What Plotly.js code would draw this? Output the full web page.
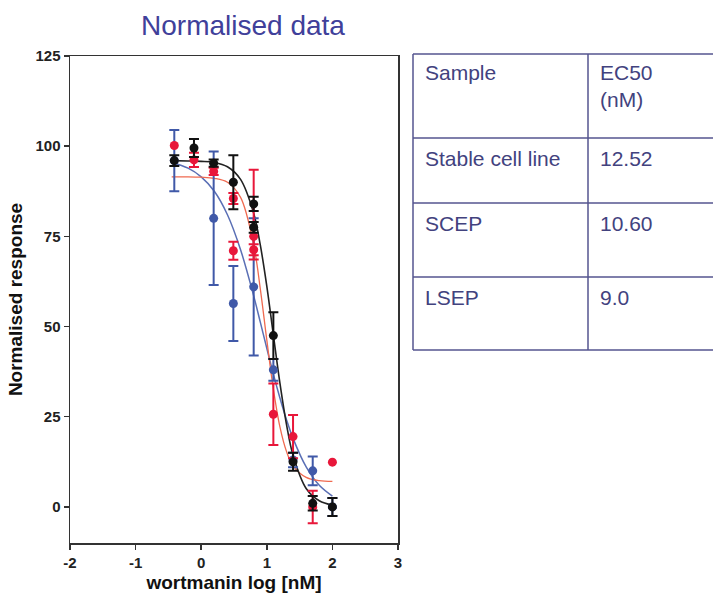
<!DOCTYPE html>
<html>
<head>
<meta charset="utf-8">
<script src="https://cdn.plot.ly/plotly-3.0.1.min.js"></script>
<style>html,body{margin:0;padding:0;background:#fff;}#chart{width:713px;height:600px;}</style>
</head>
<body>
<div id="chart"></div>
<script>
// ---- Data ----
// Measured points (x = log10 wortmannin nM)
const blackX = [-0.41, -0.11, 0.19, 0.49, 0.8, 0.8, 1.1, 1.4, 1.7, 2.0];
const blackY = [96, 99.5, 95.3, 90, 84, 77.5, 47.5, 12.5, 1, 0];
const blackErr = [1.5, 2.5, 1, 7.5, 2, 1.5, 6.5, 2.5, 2, 2.5];

const redX = [-0.41, -0.11, 0.19, 0.49, 0.49, 0.8, 0.8, 1.1, 1.4, 1.7, 2.0];
const redY = [100.2, 96.2, 93, 85.5, 71, 75, 71.3, 25.7, 19.5, 0, 12.4];
const redErrPlus = [NaN, 2, 1, 1.5, 2.5, 18.5, 1.5, 8.5, 6, 4.5, NaN];
const redErrMinus = [NaN, 2, 1, 1.5, 2.5, 6.4, 1.5, 8.5, 6, 4.5, NaN];

const blueX = [-0.41, 0.19, 0.49, 0.8, 1.1, 1.4, 1.7, 2.0];
const blueY = [96, 80, 56.4, 61, 38, 13, 10, 0];
const blueErr = [8.5, 18.5, 10.4, 19, 3, 2, 4, 2.5];

// Fitted curves, values
const curveX = [-0.45, -0.2, 0, 0.2, 0.4, 0.6, 0.8, 0.9, 1.0, 1.1, 1.2, 1.3, 1.4, 1.6, 1.8, 2.0];
const blackFit = [96.0, 95.9, 95.8, 95.5, 94.3, 90.8, 81.4, 72.7, 61.2, 47.7, 34.3, 22.9, 14.3, 5.1, 1.7, 0.5];
const redFit   = [91.5, 91.5, 91.4, 91.1, 90.0, 85.8, 72.6, 60.6, 46.3, 32.7, 22.2, 15.4, 11.4, 8.2, 7.3, 7.1];
const blueFit  = [95.5, 93.9, 91.5, 87.5, 81.0, 71.3, 58.5, 51.3, 44.0, 36.8, 30.2, 24.2, 19.0, 11.1, 6.0, 3.0];

// Axis ticks
const xTicks = [-2, -1, 0, 1, 2, 3];
const yTicks = [0, 25, 50, 75, 100, 125];

// Table contents
const tableHeader = ['Sample', 'EC50<br>(nM)'];
const samples = ['Stable cell line', 'SCEP', 'LSEP'];
const ec50 = ['12.52', '10.60', '9.0'];

// ---- Layout helpers (pixel -> paper) ----
const W = 713, H = 600;
const PL = 70, PR = 398, PT = 56, PB = 543;
const xp = px => (px - PL) / (PR - PL);
const yp = py => (PB - py) / (PB - PT);

const C_BLACK = '#111111', C_RED = '#e8173a', C_BLUE = '#4059a8';
const TXT = '#42427e', TLINE = '#55558f';

function pts(x, y, color, plus, minus) {
  const e = {type: 'data', array: plus, visible: true, color: color, thickness: 2, width: 5};
  if (minus) { e.symmetric = false; e.arrayminus = minus; }
  return {x: x, y: y, type: 'scatter', mode: 'markers',
    marker: {color: color, size: 9}, error_y: e, hoverinfo: 'skip'};
}
function fit(y, color, w) {
  return {x: curveX, y: y, type: 'scatter', mode: 'lines',
    line: {color: color, width: w, shape: 'spline', smoothing: 1}, hoverinfo: 'skip'};
}

const traces = [
  fit(blueFit, '#5a6fb5', 1.5),
  fit(redFit, '#f06a50', 1.3),
  fit(blackFit, '#222222', 1.6),
  pts(blueX, blueY, C_BLUE, blueErr),
  pts(redX, redY, C_RED, redErrPlus, redErrMinus),
  pts(blackX, blackY, C_BLACK, blackErr)
];

// Table geometry
const tLeft = 413, tRight = 720, tCol = 588;
const rowLines = [54, 138, 203, 277, 350];
const shapes = [];
rowLines.forEach(py => shapes.push({type: 'line', xref: 'paper', yref: 'paper',
  x0: xp(tLeft), x1: xp(tRight), y0: yp(py), y1: yp(py), line: {color: TLINE, width: 1.5}}));
[tLeft, tCol].forEach(px => shapes.push({type: 'line', xref: 'paper', yref: 'paper',
  x0: xp(px), x1: xp(px), y0: yp(rowLines[0]), y1: yp(rowLines[rowLines.length - 1]), line: {color: TLINE, width: 1.5}}));

const annotations = [];
const tFont = {family: 'Liberation Sans, Arial, sans-serif', size: 21, color: TXT};
function cell(text, px, py) {
  annotations.push({text: text, xref: 'paper', yref: 'paper', x: xp(px), y: yp(py),
    xanchor: 'left', yanchor: 'top', showarrow: false, align: 'left', font: tFont});
}
cell(tableHeader[0], 423, rowLines[0] + 5);
cell(tableHeader[1], 598, rowLines[0] + 5);
samples.forEach((s, i) => {
  cell(s, 423, rowLines[i + 1] + 7);
  cell(ec50[i], 598, rowLines[i + 1] + 7);
});

const axFont = {family: 'Liberation Sans, Arial, sans-serif', size: 15, color: '#222', weight: 'bold'};
const titleFont = {family: 'Liberation Sans, Arial, sans-serif', size: 19, color: '#111', weight: 'bold'};

const layout = {
  width: W, height: H,
  margin: {l: PL, r: W - PR, t: PT, b: H - PB, pad: 0},
  paper_bgcolor: '#fff', plot_bgcolor: '#fff',
  showlegend: false,
  title: {text: 'Normalised data', xref: 'container', yref: 'container',
    x: 243 / W, y: 1 - 25 / H, xanchor: 'center', yanchor: 'middle',
    font: {family: 'Liberation Sans, Arial, sans-serif', size: 28, color: '#40409a'}},
  xaxis: {range: [-2, 3], tickvals: xTicks, ticktext: xTicks.map(String),
    showgrid: false, zeroline: false, showline: true, mirror: true,
    linecolor: '#333', linewidth: 1.5, ticks: 'outside', ticklen: 5, tickwidth: 1.5, tickcolor: '#333',
    tickfont: axFont, automargin: false,
    title: {text: 'wortmanin log [nM]', font: titleFont, standoff: 6}},
  yaxis: {range: [-10, 125], tickvals: yTicks, ticktext: yTicks.map(String),
    showgrid: false, zeroline: false, showline: true, mirror: true,
    linecolor: '#333', linewidth: 1.5, ticks: 'outside', ticklen: 5, tickwidth: 1.5, tickcolor: '#333',
    tickfont: axFont, automargin: false,
    title: {text: 'Normalised response', font: titleFont, standoff: 8}},
  shapes: shapes,
  annotations: annotations
};

Plotly.newPlot('chart', traces, layout, {staticPlot: true, displayModeBar: false});
</script>
</body>
</html>
